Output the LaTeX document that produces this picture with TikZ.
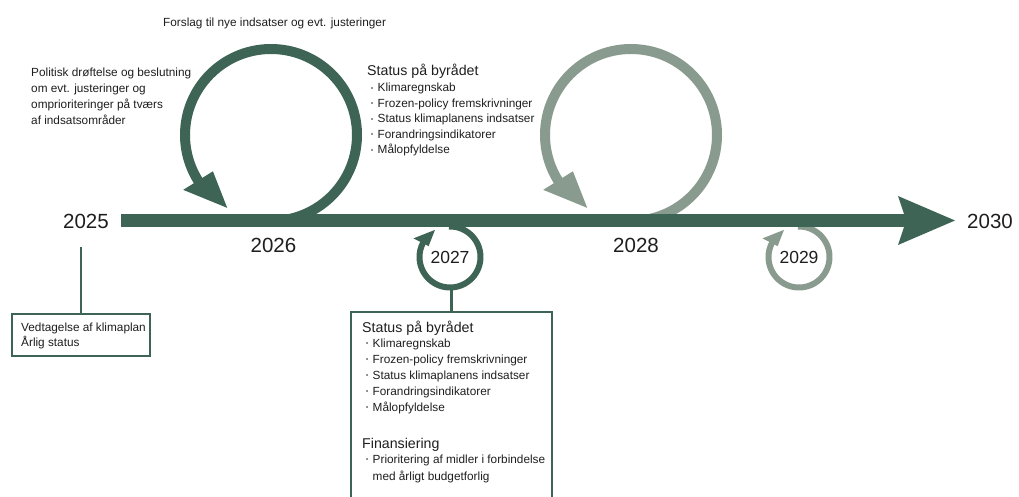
\documentclass[tikz,border=0pt]{standalone}
\usepackage{fontspec}
\setmainfont{Liberation Sans}
\usetikzlibrary{calc}
\definecolor{dk}{RGB}{61,100,85}
\definecolor{lt}{RGB}{137,155,142}
\definecolor{ink}{RGB}{30,30,30}
\newcommand{\bul}{\makebox[6.5pt][l]{\raisebox{0.3ex}{\fontsize{6}{6}\selectfont\textbullet}}}
\begin{document}
\begin{tikzpicture}[x=1pt,y=-1pt,
  txt/.style={inner sep=0pt, text=ink, font=\fontsize{11.8}{14}\selectfont, anchor=base west},
  head/.style={inner sep=0pt, text=ink, font=\fontsize{14.2}{16}\selectfont, anchor=base west},
  year/.style={inner sep=0pt, text=ink, font=\fontsize{20.5}{24}\selectfont},
  syear/.style={inner sep=0pt, text=ink, font=\fontsize{17.5}{20}\selectfont},
  bigloop/.style={line width=10pt},
  smallloop/.style={line width=6pt},
  frame/.style={draw=dk, line width=2.5pt, inner sep=0pt},
  stem/.style={draw=dk, line width=2.5pt}
]
\useasboundingbox (0,0) rectangle (1019,497);

% big loop 2026
\coordinate (c1) at (271,135);
\draw[dk, bigloop] ($(c1)+(92:86)$) arc[start angle=92, end angle=-214, radius=86];
\fill[dk] ($(c1)+(-212:103.5)$) -- ($(c1)+(-239:85)$) -- ($(c1)+(-212:68.5)$) -- cycle;

% big loop 2028
\coordinate (c2) at (631,135);
\draw[lt, bigloop] ($(c2)+(92:86)$) arc[start angle=92, end angle=-214, radius=86];
\fill[lt] ($(c2)+(-212:103.5)$) -- ($(c2)+(-239:85)$) -- ($(c2)+(-212:68.5)$) -- cycle;

% small loop 2027
\coordinate (c3) at (450,257);
\draw[dk, smallloop] ($(c3)+(-92:30.5)$) arc[start angle=-92, end angle=209, radius=30.5];
\fill[dk] ($(c3)+(207:41)$) -- ($(c3)+(241:31)$) -- ($(c3)+(207:24)$) -- cycle;

% small loop 2029
\coordinate (c4) at (799,257);
\draw[lt, smallloop] ($(c4)+(-92:30.5)$) arc[start angle=-92, end angle=209, radius=30.5];
\fill[lt] ($(c4)+(207:41)$) -- ($(c4)+(241:31)$) -- ($(c4)+(207:24)$) -- cycle;

% timeline
\fill[dk] (121,214) rectangle (905,227);
\fill[dk] (898,196) -- (955,220.5) -- (898,245) -- (904,227) -- (904,214) -- cycle;

% years
\node[year] (y25) at (86,221.5) {2025};
\node[year] (y26) at (273.5,245.5) {2026};
\node[syear] (y27) at (450,257) {2027};
\node[year] (y28) at (636,245.5) {2028};
\node[syear] (y29) at (799,257) {2029};
\node[year] (y30) at (990,221) {2030};

% 2025 box
\node[frame, minimum width=138pt, minimum height=42pt] (b25) at (81,335) {};
\coordinate (s25) at (81,247);
\draw[stem] (s25) -- (b25.north);
\node[txt] (b25a) at (21,331) {Vedtagelse af klimaplan};
\node[txt] (b25b) at (21,346) {Årlig status};

% 2027 box
\node[frame, minimum width=201pt, minimum height=200pt] (b27) at (451.5,412) {};
\coordinate (s27) at (451.5,290);
\draw[stem] (s27) -- (b27.north);
\node[head] (h27) at (362,332) {Status på byrådet};
\node[txt] (l27a) at (366,347) {\bul Klimaregnskab};
\node[txt] (l27b) at (366,363) {\bul Frozen-policy fremskrivninger};
\node[txt] (l27c) at (366,379) {\bul Status klimaplanens indsatser};
\node[txt] (l27d) at (366,395) {\bul Forandringsindikatorer};
\node[txt] (l27e) at (366,411) {\bul Målopfyldelse};
\node[head] (f27) at (362,448) {Finansiering};
\node[txt] (f27a) at (366,463) {\bul Prioritering af midler i forbindelse};
\node[txt] (f27b) at (372.5,480) {med årligt budgetforlig};

% top texts
\node[txt] (forslag) at (163,26.5) {Forslag til nye indsatser og evt. justeringer};
\node[txt] (pol1) at (31,76.5) {Politisk drøftelse og beslutning};
\node[txt] (pol2) at (31,92.7) {om evt. justeringer og};
\node[txt] (pol3) at (31,108.5) {omprioriteringer på tværs};
\node[txt] (pol4) at (31,124.5) {af indsatsområder};

\node[head] (h26) at (367,76) {Status på byrådet};
\node[txt] (l26a) at (371,92) {\bul Klimaregnskab};
\node[txt] (l26b) at (371,107.5) {\bul Frozen-policy fremskrivninger};
\node[txt] (l26c) at (371,123) {\bul Status klimaplanens indsatser};
\node[txt] (l26d) at (371,138.5) {\bul Forandringsindikatorer};
\node[txt] (l26e) at (371,154) {\bul Målopfyldelse};
\end{tikzpicture}
\end{document}
